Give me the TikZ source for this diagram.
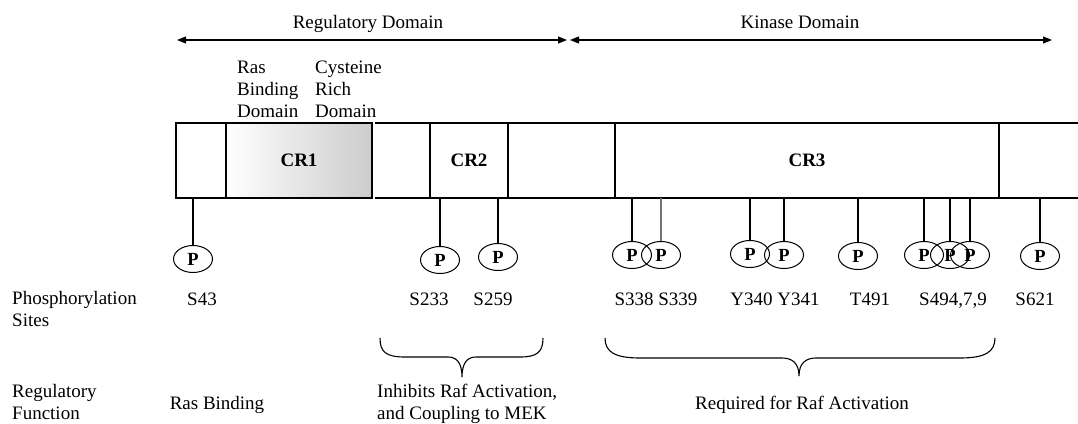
\documentclass[tikz,border=0pt]{standalone}
\usepackage{fontspec}
\setmainfont{Liberation Serif}
\usetikzlibrary{positioning, shapes.geometric, arrows.meta}

\begin{document}
\begin{tikzpicture}[
  x=1pt, y=-1pt,
  font=\fontsize{19}{22}\selectfont,
  >={Triangle[length=9pt, width=7pt]},
  seg/.style={draw, line width=1.1pt, minimum height=75pt, anchor=north west,
              inner sep=0pt, outer sep=0pt, font=\fontsize{19}{22}\selectfont\bfseries},
  phos/.style={draw, ellipse, line width=1pt, minimum width=39pt, minimum height=27pt,
               inner sep=0pt, font=\fontsize{18.5}{20}\selectfont\bfseries},
  stalk/.style={line width=1.1pt},
  site/.style={inner sep=0pt, anchor=base},
  lab/.style={inner sep=0pt, anchor=north west, align=left},
  dom/.style={line width=1.1pt, <->},
  brc/.style={line width=1.1pt}
]
\useasboundingbox (0,0) rectangle (1078,423);

% ---- Domain arrows ----
\coordinate (regL) at (177,40);
\coordinate (regR) at (567,40);
\coordinate (kinL) at (570,40);
\coordinate (kinR) at (1052,40);
\draw[dom] (regL) -- (regR);
\draw[dom] (kinL) -- (kinR);
\node[site] (regdom) at (368,28) {Regulatory Domain};
\node[site] (kindom) at (800,28) {Kinase Domain};

% ---- Sub-domain labels ----
\node[lab] (rbd) at (237,61) {Ras\\Binding\\Domain};
\node[lab] (crd) at (315,61) {Cysteine\\Rich\\Domain};

% ---- Protein bar ----
\node[seg, minimum width=50pt]  (s0)  at (176,123) {};
\node[seg, minimum width=146pt, left color=white, right color=black!20] (cr1) at (226,123) {CR1};
\node[seg, draw=none, minimum width=55pt] (s1) at (375,123) {};
\draw[line width=1.1pt] (s1.north west) -- (s1.north east);
\draw[line width=1.1pt] (s1.south west) -- (s1.south east);
\node[seg, minimum width=78pt]  (cr2) at (430,123) {CR2};
\node[seg, minimum width=107pt] (s2)  at (508,123) {};
\node[seg, minimum width=384pt] (cr3) at (615,123) {CR3};
\node[seg, minimum width=120pt] (s3)  at (999,123) {};

% ---- Phosphates ----
\node[phos] (p43)  at (193,259) {P};
\node[phos] (p233) at (440,260) {P};
\node[phos] (p259) at (498,257) {P};
\node[phos] (p338) at (632,255) {P};
\node[phos] (p339) at (661,255) {P};
\node[phos] (p340) at (750,254) {P};
\node[phos] (p341) at (784,255) {P};
\node[phos] (p491) at (858,256) {P};
\node[phos] (p494) at (924,255) {P};
\node[phos] (p497) at (950,255) {P};
\node[phos] (p499) at (970,255) {P};
\node[phos] (p621) at (1040,256) {P};

\draw[stalk] (p43 |- s0.south)   -- (p43.north);
\draw[stalk] (p233 |- s1.south)  -- (p233.north);
\draw[stalk] (p259 |- s2.south)  -- (p259.north);
\draw[stalk] (p338 |- cr3.south) -- (p338.north);
\draw[stalk, black!55] (p339 |- cr3.south) -- (p339.north);
\draw[stalk] (p340 |- cr3.south) -- (p340.north);
\draw[stalk] (p341 |- cr3.south) -- (p341.north);
\draw[stalk] (p491 |- cr3.south) -- (p491.north);
\draw[stalk] (p494 |- cr3.south) -- (p494.north);
\draw[stalk] (p497 |- cr3.south) -- (p497.north);
\draw[stalk] (p499 |- cr3.south) -- (p499.north);
\draw[stalk] (p621 |- s3.south)  -- (p621.north);

% ---- Site names ----
\node[lab] (phrow) at (12,291) {Phosphorylation\\Sites};
\node[site] (n43)  at (202,305) {S43};
\node[site] (n233) at (429,305) {S233};
\node[site] (n259) at (493,305) {S259};
\node[site] (n338) at (656,305) {S338 S339};
\node[site] (n340) at (775,305) {Y340 Y341};
\node[site] (n491) at (870,305) {T491};
\node[site] (n494) at (953,305) {S494,7,9};
\node[site] (n621) at (1035,305) {S621};

% ---- Braces ----
\coordinate (b1L) at (380,338);
\coordinate (b1R) at (543,338);
\coordinate (b1T) at (462,377);
\coordinate (b2L) at (605,338);
\coordinate (b2R) at (995,338);
\coordinate (b2T) at (799,376);
\draw[brc] (b1L) .. controls (380,352) and (386,357) .. (405,357) -- (448,357)
  .. controls (456,357) and (462,362) .. (b1T)
  .. controls (462,362) and (468,357) .. (476,357) -- (520,357)
  .. controls (537,357) and (543,352) .. (b1R);
\draw[brc] (b2L) .. controls (605,352) and (615,358) .. (640,358) -- (782,358)
  .. controls (792,358) and (799,363) .. (b2T)
  .. controls (799,363) and (806,358) .. (816,358) -- (960,358)
  .. controls (985,358) and (995,352) .. (b2R);

% ---- Regulatory function ----
\node[lab] (fnrow) at (12,384) {Regulatory\\Function};
\node[site] (fras) at (217,409) {Ras Binding};
\node[lab]  (finh) at (377,384) {Inhibits Raf Activation,\\and Coupling to MEK};
\node[site] (freq) at (802,409) {Required for Raf Activation};

\end{tikzpicture}
\end{document}
